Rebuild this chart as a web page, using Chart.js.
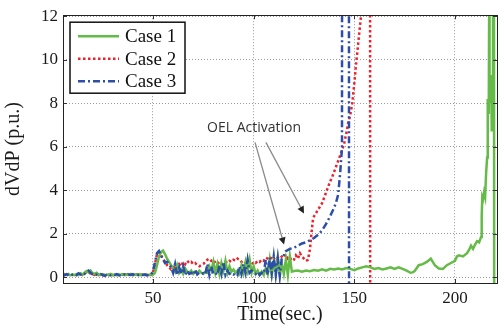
<!DOCTYPE html>
<html>
<head>
<meta charset="utf-8">
<script src="https://cdn.jsdelivr.net/npm/chart.js@4/dist/chart.umd.min.js"></script>
<style>
html, body { margin: 0; padding: 0; background: #fff; }
</style>
</head>
<body>
<canvas id="chart" width="504" height="329"></canvas>
<script>
// series labels and axis ticks
const seriesNames = ['Case 1', 'Case 2', 'Case 3'];
const xTicks = [50, 100, 150, 200];
const yTicks = [0, 2, 4, 6, 8, 10, 12];

// [time (sec), dVdP (p.u.)]
const case1Points = [
    [5,0.08],[6,0.12],[7,0.1],[8,0.15],[9,0.08],[10,0.12],[11,0.09],[12,0.14],[13,0.1],[14,0.18],
    [15,0.12],[16,0.2],[17,0.28],[18,0.22],[19,0.3],[20,0.18],[21,0.15],[22,0.2],[23,0.12],[24,0.1],
    [25,0.14],[26,0.08],[27,0.12],[28,0.1],[29,0.15],[30,0.09],[31,0.12],[32,0.08],[33,0.13],[34,0.1],
    [35,0.14],[36,0.09],[37,0.12],[38,0.1],[39,0.15],[40,0.08],[41,0.12],[42,0.1],[43,0.14],[44,0.09],
    [45,0.13],[46,0.1],[47,0.12],[48,0.09],[49,0.14],[50,0.12],[51,0.2],[52,0.55],[53,0.95],[54,1.15],
    [55,1.22],[56,1.05],[57,0.85],[58,0.7],[59,0.55],[60,0.4],[61,0.25],[62,0.55],[63,0.2],[64,0.35],
    [65,0.15],[66,0.4],[67,0.25],[68,0.2],[69,0.3],[70,0.15],[71,0.25],[72,0.18],[73,0.3],[74,0.2],
    [75,0.15],[76,0.25],[77,0.2],[78,0.5],[79,0.3],[80,0.7],[81,0.2],[82,0.6],[83,0.15],[84,0.65],
    [85,0.3],[86,0.75],[87,0.2],[88,0.5],[89,0.25],[90,0.35],[91,0.2],[92,0.3],[93,0.15],[94,0.55],
    [95,0.2],[96,0.7],[97,0.3],[98,0.8],[99,0.2],[100,0.5],[101,0.15],[102,0.3],[103,0.1],[104,0.25],
    [105,0.1],[106,0.4],[107,0.15],[108,0.8],[109,0.1],[110,0.7],[111,0.2],[112,0.9],[113,0.1],[114,0.6],
    [115,0.15],[116,0.8],[117,0.1],[118,0.95],[119,0.25],[120,0.28],[122,0.3],[124,0.25],[126,0.3],[128,0.27],
    [130,0.33],[132,0.3],[134,0.36],[136,0.3],[138,0.38],[140,0.35],[142,0.4],[144,0.35],[146,0.42],[148,0.38],
    [150,0.32],[152,0.4],[154,0.45],[156,0.5],[158,0.45],[160,0.38],[162,0.42],[164,0.35],[166,0.4],[168,0.45],
    [170,0.38],[172,0.45],[174,0.38],[176,0.3],[178,0.2],[179,0.22],[180,0.28],[182,0.55],[184,0.6],[186,0.7],
    [188,0.85],[189,0.7],[190,0.55],[192,0.4],[194,0.38],[196,0.55],[198,0.65],[200,0.75],[201,0.95],[202,1.0],
    [204,0.95],[206,1.1],[207,1.25],[208,1.45],[209,1.3],[210,1.5],[211,1.65],[212,1.6],[213,1.85],[213.3,2.8],
    [213.6,3.7],[214,3.6],[214.5,3.9],[215,3.7],[215.5,4.8],[216,5.5],[216.3,8.2],[216.8,7.5],[217,12.5],[217.2,9.0],
    [217.6,8.0],[218,9.3],[218.3,6.7],[218.6,8.5],[218.9,13],[219.4,13],[219.5,-0.5]
];

const case2Points = [
    [5,0.1],[6,0.14],[7,0.08],[8,0.12],[9,0.16],[10,0.1],[11,0.13],[12,0.09],[13,0.12],[14,0.15],
    [15,0.1],[16,0.18],[17,0.22],[18,0.15],[19,0.2],[20,0.14],[21,0.1],[22,0.13],[23,0.09],[24,0.12],
    [25,0.08],[26,0.11],[27,0.14],[28,0.09],[29,0.12],[30,0.1],[31,0.08],[32,0.12],[33,0.1],[34,0.14],
    [35,0.11],[36,0.08],[37,0.12],[38,0.15],[39,0.1],[40,0.12],[41,0.09],[42,0.13],[43,0.1],[44,0.12],
    [45,0.08],[46,0.13],[47,0.1],[48,0.12],[49,0.1],[50,0.2],[51,0.6],[52,1.05],[53,1.15],[54,1.0],
    [55,0.85],[56,0.7],[57,0.55],[58,0.45],[59,0.35],[60,0.4],[61,0.55],[62,0.45],[63,0.6],[64,0.5],
    [65,0.7],[66,0.6],[67,0.75],[68,0.65],[69,0.7],[70,0.6],[71,0.65],[72,0.55],[73,0.5],[74,0.55],
    [75,0.6],[76,0.7],[77,0.8],[78,0.85],[79,0.75],[80,0.8],[81,0.65],[82,0.7],[83,0.6],[84,0.55],
    [85,0.6],[86,0.7],[87,0.65],[88,0.75],[89,0.7],[90,0.8],[91,0.75],[92,0.85],[93,0.8],[94,0.7],
    [95,0.6],[96,0.65],[97,0.55],[98,0.6],[99,0.55],[100,0.7],[101,0.65],[102,0.75],[103,0.7],[104,0.8],
    [105,0.75],[106,0.9],[107,0.85],[108,0.8],[109,0.95],[110,0.85],[111,0.8],[112,0.9],[113,0.85],[114,0.95],
    [115,0.9],[116,1.05],[117,0.85],[118,0.9],[119,0.75],[120,0.8],[121,1.0],[122,0.85],[123,1.1],[124,0.95],
    [125,0.85],[126,0.75],[127,0.8],[128,1.3],[128.7,2.0],[129.4,2.6],[130,2.8],[131,2.95],[132,3.1],[133,3.25],
    [134,3.4],[135,3.65],[136,3.9],[137,4.15],[138,4.4],[139,4.6],[140,4.85],[141,5.1],[142,5.35],[143,5.6],
    [144,5.85],[145,6.15],[146,6.6],[147,7.1],[148,7.45],[149,8.0],[150,8.9],[151,9.9],[152,10.8],[153,11.7],
    [154,12.6],[157.8,30],[157.9,-0.5]
];

const case3Points = [
    [5,0.12],[6,0.08],[7,0.14],[8,0.1],[9,0.06],[10,0.12],[11,0.15],[12,0.1],[13,0.18],[14,0.12],
    [15,0.2],[16,0.15],[17,0.25],[18,0.3],[19,0.2],[20,0.12],[21,0.08],[22,0.12],[23,0.1],[24,0.14],
    [25,0.1],[26,0.06],[27,0.1],[28,0.13],[29,0.08],[30,0.12],[31,0.1],[32,0.14],[33,0.09],[34,0.06],
    [35,0.1],[36,0.13],[37,0.08],[38,0.12],[39,0.1],[40,0.14],[41,0.08],[42,0.11],[43,0.09],[44,0.13],
    [45,0.1],[46,0.12],[47,0.08],[48,0.11],[49,0.13],[50,0.25],[51,0.7],[52,1.1],[53,1.2],[54,1.0],
    [55,0.8],[56,0.65],[57,0.7],[58,0.6],[59,0.45],[60,0.2],[61,0.6],[62,0.1],[63,0.45],[64,0.15],
    [65,0.5],[66,0.1],[67,0.3],[68,0.15],[69,0.2],[70,0.1],[71,0.35],[72,0.12],[73,0.2],[74,0.15],
    [75,0.18],[76,0.12],[77,0.6],[78,0.1],[79,0.5],[80,0.15],[81,0.2],[82,0.1],[83,0.55],[84,0.15],
    [85,0.7],[86,0.1],[87,0.3],[88,0.15],[89,0.2],[90,0.12],[91,0.18],[92,0.1],[93,0.5],[94,0.15],
    [95,0.6],[96,0.2],[97,0.8],[98,0.2],[99,0.3],[100,0.2],[101,0.15],[102,0.25],[103,0.1],[104,0.2],
    [105,0.15],[106,0.8],[107,0.1],[108,0.9],[109,0.2],[110,0.95],[111,0.1],[112,0.85],[113,0.05],[114,0.9],
    [115,1.0],[116,1.2],[118,1.3],[120,1.35],[122,1.45],[124,1.55],[126,1.6],[128,1.7],[130,1.8],[132,1.95],
    [134,2.15],[136,2.45],[138,2.8],[140,3.2],[141,3.45],[142,3.8],[143,4.8],[143.9,5.95],[144,30],[147.3,30],
    [147.4,-0.5]
];

// "OEL Activation" note: text anchor and arrow tails/heads in data units
const noteText = 'OEL Activation';
const notePos = [100.2, 6.85];
const noteArrows = [
    [[100.7, 6.2], [115.1, 1.5]],
    [[106.1, 6.2], [125.0, 2.93]]
];

const toXY = pts => pts.map(p => ({ x: p[0], y: p[1] }));

const serif = 'Liberation Serif, Times New Roman, serif';

const boxPlugin = {
    id: 'boxPlugin',
    afterDraw(chart) {
        const { ctx, chartArea: a, scales } = chart;
        ctx.save();
        // inward tick marks
        ctx.strokeStyle = '#333';
        ctx.lineWidth = 1;
        ctx.beginPath();
        xTicks.forEach(v => {
            const px = Math.round(scales.x.getPixelForValue(v)) + 0.5;
            ctx.moveTo(px, a.bottom); ctx.lineTo(px, a.bottom - 4);
            ctx.moveTo(px, a.top); ctx.lineTo(px, a.top + 4);
        });
        yTicks.forEach(v => {
            const py = Math.round(scales.y.getPixelForValue(v)) + 0.5;
            ctx.moveTo(a.left, py); ctx.lineTo(a.left + 4, py);
            ctx.moveTo(a.right, py); ctx.lineTo(a.right - 4, py);
        });
        ctx.stroke();
        ctx.strokeStyle = '#222';
        ctx.strokeRect(Math.round(a.left) + 0.5, Math.round(a.top) + 0.5,
            Math.round(a.right - a.left), Math.round(a.bottom - a.top));

        // note + arrows
        ctx.font = '14px "Open Sans", sans-serif';
        ctx.fillStyle = '#333';
        ctx.textAlign = 'center';
        ctx.textBaseline = 'middle';
        ctx.fillText(noteText, scales.x.getPixelForValue(notePos[0]), scales.y.getPixelForValue(notePos[1]));
        noteArrows.forEach(([from, to]) => {
            const x0 = scales.x.getPixelForValue(from[0]), y0 = scales.y.getPixelForValue(from[1]);
            const x1 = scales.x.getPixelForValue(to[0]), y1 = scales.y.getPixelForValue(to[1]);
            const ang = Math.atan2(y1 - y0, x1 - x0);
            ctx.strokeStyle = '#8a8a8a';
            ctx.lineWidth = 1.3;
            ctx.beginPath();
            ctx.moveTo(x0, y0);
            ctx.lineTo(x1 - 5 * Math.cos(ang), y1 - 5 * Math.sin(ang));
            ctx.stroke();
            ctx.fillStyle = '#222';
            ctx.beginPath();
            ctx.moveTo(x1, y1);
            ctx.lineTo(x1 - 7 * Math.cos(ang) + 3.5 * Math.sin(ang), y1 - 7 * Math.sin(ang) - 3.5 * Math.cos(ang));
            ctx.lineTo(x1 - 7 * Math.cos(ang) - 3.5 * Math.sin(ang), y1 - 7 * Math.sin(ang) + 3.5 * Math.cos(ang));
            ctx.closePath();
            ctx.fill();
        });

        // legend box
        const lx = a.left + 7, ly = a.top + 7, lw = 115, lh = 71;
        ctx.fillStyle = '#fff';
        ctx.fillRect(lx, ly, lw, lh);
        ctx.strokeStyle = '#111';
        ctx.lineWidth = 1.5;
        ctx.strokeRect(lx, ly, lw, lh);
        ctx.font = '19px ' + serif;
        ctx.textAlign = 'left';
        ctx.textBaseline = 'middle';
        chart.data.datasets.forEach((ds, i) => {
            const ry = ly + 14 + i * 22.5;
            ctx.strokeStyle = ds.borderColor;
            ctx.lineWidth = ds.borderWidth;
            ctx.setLineDash(ds.borderDash || []);
            ctx.beginPath();
            ctx.moveTo(lx + 8, ry);
            ctx.lineTo(lx + 49, ry);
            ctx.stroke();
            ctx.setLineDash([]);
            ctx.fillStyle = '#111';
            ctx.fillText(ds.label, lx + 55, ry + 1);
        });
        ctx.restore();
    }
};

const ctx = document.getElementById('chart').getContext('2d');
new Chart(ctx, {
    type: 'line',
    data: {
        datasets: [
            { label: seriesNames[0], data: toXY(case1Points), borderColor: '#64bb47', borderWidth: 2.5, order: 2 },
            { label: seriesNames[1], data: toXY(case2Points), borderColor: '#f0202a', borderWidth: 2.5, borderDash: [2.5, 2.5], order: 3 },
            { label: seriesNames[2], data: toXY(case3Points), borderColor: '#2c4ea8', borderWidth: 2.5, borderDash: [7, 3, 2, 3], order: 1 }
        ]
    },
    options: {
        responsive: false,
        animation: false,
        layout: { padding: { top: 6, right: 7, left: 0, bottom: 0 } },
        elements: { point: { radius: 0 }, line: { tension: 0, fill: false } },
        plugins: { legend: { display: false }, tooltip: { enabled: false } },
        scales: {
            x: {
                type: 'linear',
                min: 5.3,
                max: 220.9,
                afterBuildTicks: s => { s.ticks = xTicks.map(v => ({ value: v })); },
                afterFit: s => { s.height = 46; },
                grid: { color: '#9a9a9a', lineWidth: 1, drawTicks: false },
                border: { display: false, dash: [1, 2] },
                ticks: { font: { family: serif, size: 17 }, color: '#1a1a1a', padding: 5, maxRotation: 0 },
                title: { display: true, text: 'Time(sec.)', font: { family: serif, size: 20 }, color: '#1a1a1a', padding: { top: 0, bottom: 2 } }
            },
            y: {
                min: -0.27,
                max: 12.05,
                afterBuildTicks: s => { s.ticks = yTicks.map(v => ({ value: v })); },
                afterFit: s => { s.width = 63; },
                grid: { color: '#9a9a9a', lineWidth: 1, drawTicks: false },
                border: { display: false, dash: [1, 2] },
                ticks: { font: { family: serif, size: 17 }, color: '#1a1a1a', padding: 5 },
                title: { display: true, text: 'dVdP (p.u.)', font: { family: serif, size: 20 }, color: '#1a1a1a', padding: { top: 2, bottom: 0 } }
            }
        }
    },
    plugins: [boxPlugin]
});
</script>
</body>
</html>
